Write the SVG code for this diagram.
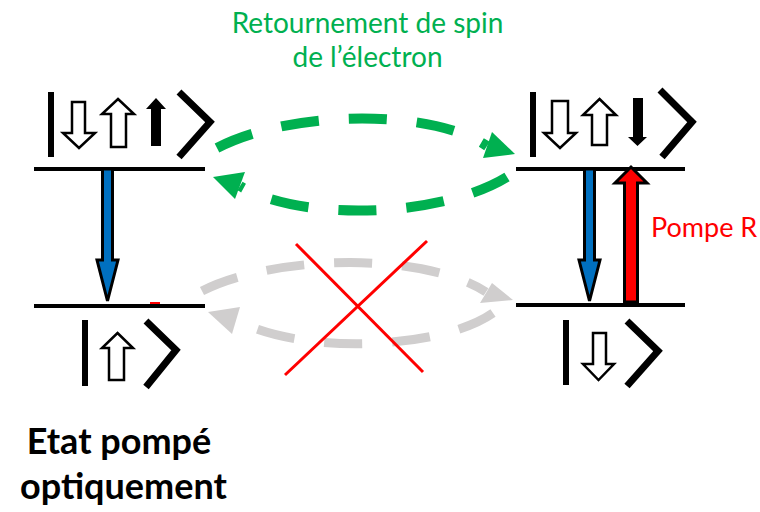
<svg xmlns="http://www.w3.org/2000/svg" width="760" height="512" viewBox="0 0 760 512">
<style>
.lvl{stroke:#000;stroke-width:4;fill:none}
.bar{stroke:#000;stroke-width:6;fill:none}
.brk{stroke:#000;stroke-width:7;fill:none;stroke-linejoin:miter}
.hol{fill:#fff;stroke:#000;stroke-width:2.5;stroke-linejoin:miter}
.sol{fill:#000}
.blue{fill:#0070C0;stroke:#000;stroke-width:3;stroke-linejoin:miter}
.red{fill:#FF0000;stroke:#000;stroke-width:3;stroke-linejoin:miter}
.gdash{stroke:#00B050;stroke-width:10;fill:none;stroke-dasharray:38 30}
.ghead{fill:#00B050}
.ydash{stroke:#D0CECE;stroke-width:9;fill:none;stroke-dasharray:38 30}
.yhead{fill:#D0CECE}
.cross{stroke:#FF0000;stroke-width:3}
.t{font-family:Lato,"Liberation Sans",sans-serif}
</style>
<g id="title" class="t" fill="#00B050" font-size="28" text-anchor="middle">
<text x="367.5" y="33">Retournement de spin</text>
<text x="367.5" y="67">de l’électron</text>
</g>
<g id="left-upper-state">
<line class="bar" x1="51" y1="92" x2="51" y2="157"/>
<polygon class="hol" points="72,102 85,102 85,133 95,133 79,148 63,133 72,133"/>
<polygon class="hol" points="118,99 134,114 126,114 126,147 111,147 111,114 102,114"/>
<polygon class="sol" points="156,98 166,109 161,109 161,146 151,146 151,109 146,109"/>
<polyline class="brk" points="179,92 210,122 179,157"/>
<line class="lvl" x1="34" y1="169" x2="205" y2="169"/>
</g>
<g id="left-lower-state">
<line class="lvl" x1="34" y1="306" x2="205" y2="306"/>
<rect x="150" y="302" width="10" height="2" fill="#FF0000"/>
<line class="bar" x1="85" y1="320" x2="85" y2="386"/>
<polygon class="hol" points="117.5,333 133,348 124,348 124,380 109,380 109,348 102,348"/>
<polyline class="brk" points="146,321 176,350 146,387"/>
</g>
<g id="right-upper-state">
<line class="bar" x1="533" y1="92" x2="533" y2="157"/>
<polygon class="hol" points="552,101 568,101 568,133 576,133 560,148 544,133 552,133"/>
<polygon class="hol" points="599.5,99 616,115 607,115 607,145 592,145 592,115 583,115"/>
<polygon class="sol" points="633,98 643,98 643,137 647,137 637.5,146 628,137 633,137"/>
<polyline class="brk" points="660,90 692,122 662,157"/>
<line class="lvl" x1="516" y1="169" x2="685" y2="169"/>
</g>
<g id="right-lower-state">
<line class="lvl" x1="516" y1="305" x2="685" y2="305"/>
<line class="bar" x1="566" y1="320" x2="566" y2="385"/>
<polygon class="hol" points="593,333 606,333 606,364 614,364 598.5,380 583,364 593,364"/>
<polyline class="brk" points="627,321 658,351 627,386"/>
</g>
<g id="connectors">
<polygon class="blue" points="102.5,169 112.5,169 112.5,260 118,260 107.5,301 97,260 102.5,260"/>
<polygon class="blue" points="584.5,169 594.5,169 594.5,260 600,260 589.5,301 579,260 584.5,260"/>
<polygon class="red" points="624.5,302 637.5,302 637.5,183 647,183 631,167 615,183 624.5,183"/>
<path class="gdash" d="M217,148 C290,110 430,108 487,146"/>
<polygon class="ghead" points="515,154 483,158 492,132"/>
<path class="gdash" d="M507,177 C440,218 300,222 240,186"/>
<polygon class="ghead" points="213,177 245,172 235,199"/>
<path class="ydash" d="M202,291 C270,256 420,250 486,292"/>
<polygon class="yhead" points="513,300 480,303 492,283"/>
<path class="ydash" d="M493,313 C440,350 300,355 236,320"/>
<polygon class="yhead" points="208,312 240,307 232,334"/>
<line class="cross" x1="296" y1="244" x2="423" y2="372"/>
<line class="cross" x1="427" y1="241" x2="285" y2="375"/>
</g>
<g id="pump-label" class="t">
<text x="651" y="237" fill="#FF0000" font-size="27">Pompe R</text>
</g>
<g id="state-label" class="t" font-weight="bold" font-size="36" text-anchor="middle">
<text x="119" y="454">Etat pompé</text>
<text x="123.5" y="499">optiquement</text>
</g>
</svg>
